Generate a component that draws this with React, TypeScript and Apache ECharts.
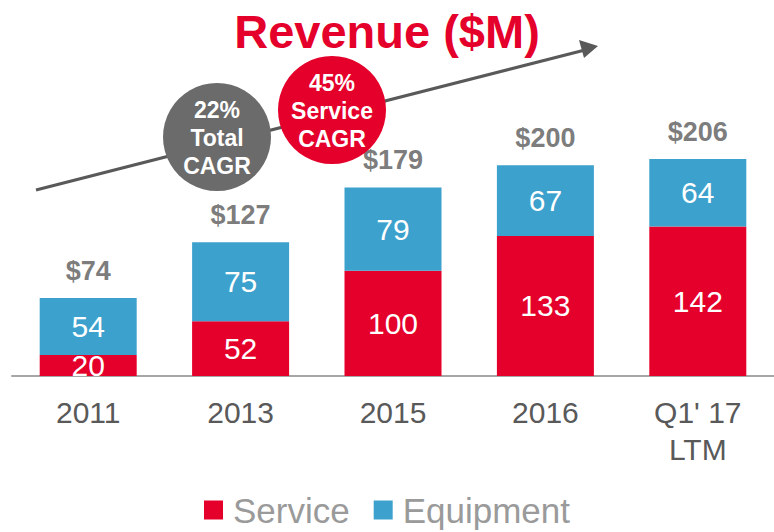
import React, { useEffect, useRef } from "react";
import * as echarts from "echarts";

const categories = ["2011", "2013", "2015", "2016", "Q1' 17\nLTM"];
const serviceValues = [20, 52, 100, 133, 142];
const equipmentValues = [54, 75, 79, 67, 64];
const totalValues = serviceValues.map((v, i) => v + equipmentValues[i]);
const titleText = "Revenue ($M)";
const totalBubble = "22%\nTotal\nCAGR";
const serviceBubble = "45%\nService\nCAGR";

const RED = "#E5002B";
const BLUE = "#3DA1CD";
const GRAY = "#595959";
const FONT = "'Liberation Sans', Arial, sans-serif";

export default function App() {
  const ref = useRef<HTMLDivElement>(null);
  useEffect(() => {
    if (!ref.current) return;
    const chart = echarts.init(ref.current, undefined, { renderer: "svg" });
    chart.setOption({
      animation: false,
      textStyle: { fontFamily: FONT },
      grid: { left: 12, right: 0, top: 60, bottom: 156, containLabel: false },
      legend: {
        data: ["Service", "Equipment"],
        left: "center",
        top: 492,
        padding: 0,
        itemWidth: 19,
        itemHeight: 19,
        itemGap: 24,
        icon: "rect",
        textStyle: { fontSize: 35, lineHeight: 36, color: "#9a9a9a", fontFamily: FONT, padding: [0, 0, 0, 5] },
      },
      xAxis: {
        type: "category",
        data: categories,
        axisLine: { lineStyle: { color: "#a6a6a6", width: 2 } },
        axisTick: { length: 10, lineStyle: { color: "#a6a6a6", width: 2 } },
        axisLabel: { fontSize: 30, color: GRAY, lineHeight: 37, margin: 18, fontFamily: FONT },
      },
      yAxis: { type: "value", min: 0, max: 300, show: false, splitLine: { show: false } },
      series: [
        {
          name: "Service",
          type: "bar",
          stack: "rev",
          data: serviceValues,
          barWidth: 97,
          itemStyle: { color: RED },
          label: { show: true, position: "inside", color: "#fff", fontSize: 30, fontFamily: FONT },
        },
        {
          name: "Equipment",
          type: "bar",
          stack: "rev",
          data: equipmentValues,
          barWidth: 97,
          itemStyle: { color: BLUE },
          label: { show: true, position: "inside", color: "#fff", fontSize: 30, fontFamily: FONT },
        },
        {
          name: "Total",
          type: "scatter",
          data: totalValues,
          symbolSize: 0,
          itemStyle: { color: "transparent" },
          label: {
            show: true,
            position: "top",
            distance: 14,
            formatter: (p: any) => "$" + p.value,
            color: GRAY,
            fontSize: 27,
            fontWeight: "bold",
            fontFamily: FONT,
          },
        },
      ],
      graphic: [
        {
          type: "text",
          left: "center",
          top: 8,
          style: { text: titleText, fill: RED, font: `bold 47px ${FONT}` },
          z: 10,
        },
        {
          type: "line",
          shape: { x1: 36, y1: 190, x2: 585, y2: 50 },
          style: { stroke: GRAY, lineWidth: 3 },
          z: 5,
        },
        {
          type: "polygon",
          shape: { points: [[598, 46], [579, 40], [584, 58]] },
          style: { fill: GRAY },
          z: 5,
        },
        {
          type: "circle",
          shape: { cx: 217, cy: 137, r: 54 },
          style: { fill: "#6b6b6b" },
          z: 6,
        },
        {
          type: "text",
          x: 217,
          y: 138,
          style: {
            text: totalBubble,
            fill: "#fff",
            font: `bold 23px ${FONT}`,
            lineHeight: 28,
            align: "center",
            verticalAlign: "middle",
          },
          z: 7,
        },
        {
          type: "circle",
          shape: { cx: 332, cy: 110, r: 54 },
          style: { fill: RED },
          z: 6,
        },
        {
          type: "text",
          x: 332,
          y: 111,
          style: {
            text: serviceBubble,
            fill: "#fff",
            font: `bold 23px ${FONT}`,
            lineHeight: 28,
            align: "center",
            verticalAlign: "middle",
          },
          z: 7,
        },
      ],
    });
    return () => chart.dispose();
  }, []);
  return <div ref={ref} style={{ width: 774, height: 532, position: "absolute", left: 0, top: 0 }} />;
}
